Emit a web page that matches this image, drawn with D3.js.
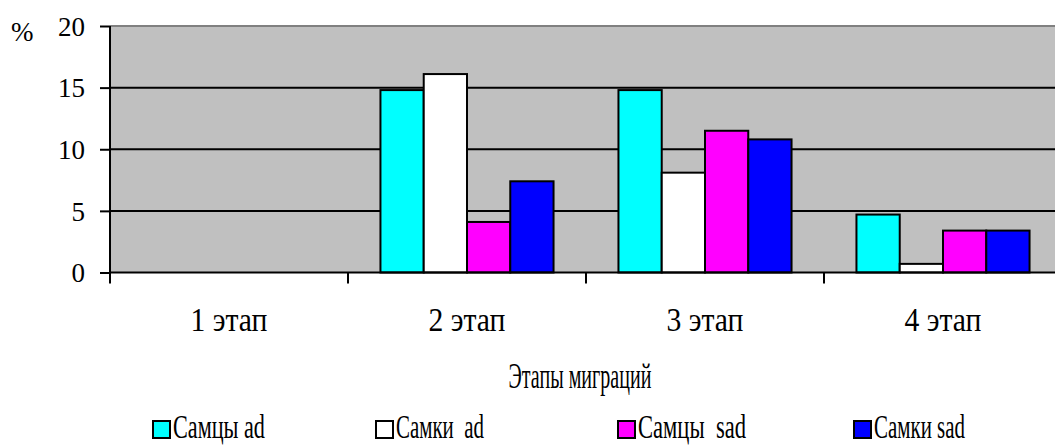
<!DOCTYPE html>
<html>
<head>
<meta charset="utf-8">
<script src="https://cdn.jsdelivr.net/npm/d3@7"></script>
<style>
  html, body { margin: 0; padding: 0; background: #fff; }
  svg { display: block; }
  text { font-family: "Liberation Serif", "Times New Roman", serif; fill: #000; white-space: pre; }
</style>
</head>
<body>
<svg id="chart" width="1055" height="446"></svg>
<script>
// Stages of migration and share (%) of each sex/age group
const stages = ["1 этап", "2 этап", "3 этап", "4 этап"];
const seriesNames = ["Самцы ad", "Самки  ad", "Самцы  sad", "Самки sad"];
const malesAd = [0, 14.8, 14.8, 4.7];
const femalesAd = [0, 16.1, 8.1, 0.7];
const malesSad = [0, 4.1, 11.5, 3.4];
const femalesSad = [0, 7.4, 10.8, 3.4];
const yTicks = [0, 5, 10, 15, 20];
const colors = ["#00ffff", "#ffffff", "#ff00ff", "#0000ff"];

const seriesValues = [malesAd, femalesAd, malesSad, femalesSad];
const serif = "'Liberation Serif', 'Times New Roman', serif";

const svg = d3.select("#chart");
const plot = { left: 110, right: 1062, top: 26, bottom: 272.5 };

const x0 = d3.scaleBand().domain(stages).range([plot.left, plot.right]).padding(0);
const x1 = d3.scaleBand().domain(d3.range(4)).range([0, x0.bandwidth()])
  .paddingInner(0).paddingOuter(0.75);
const y = d3.scaleLinear().domain([0, 20]).range([plot.bottom, plot.top]);

// Narrow text: draws at the given size, then squeezes it horizontally to `width`
function condensedText(parent, str, x, y, size, width, anchor) {
  const g = parent.append("g");
  const t = g.append("text")
    .style("font-family", serif)
    .style("font-size", size + "px")
    .text(str);
  const natural = t.node().getComputedTextLength();
  const sx = width / natural;
  const dx = anchor === "middle" ? -width / 2 : 0;
  g.attr("transform", `translate(${x + dx},${y}) scale(${sx},1)`);
  return g;
}

// plot background
svg.append("rect")
  .attr("x", plot.left).attr("y", plot.top)
  .attr("width", plot.right - plot.left).attr("height", plot.bottom - plot.top)
  .attr("fill", "#c0c0c0");

// top border
svg.append("line")
  .attr("x1", plot.left).attr("x2", plot.right)
  .attr("y1", plot.top).attr("y2", plot.top)
  .attr("stroke", "#808080").attr("stroke-width", 2);

// horizontal gridlines
svg.append("g").selectAll("line")
  .data(yTicks.filter(t => t > 0 && t < 20))
  .join("line")
  .attr("x1", plot.left).attr("x2", plot.right)
  .attr("y1", d => y(d)).attr("y2", d => y(d))
  .attr("stroke", "#000").attr("stroke-width", 2);

// bars
const groups = svg.append("g").selectAll("g")
  .data(stages)
  .join("g")
  .attr("transform", d => `translate(${x0(d)},0)`);

groups.selectAll("rect")
  .data((d, i) => seriesValues.map((vals, s) => ({ s, v: vals[i] })))
  .join("rect")
  .attr("x", d => x1(d.s))
  .attr("width", x1.bandwidth())
  .attr("y", d => y(d.v))
  .attr("height", d => y(0) - y(d.v))
  .attr("fill", d => colors[d.s])
  .attr("stroke", "#000")
  .attr("stroke-width", 2);

// y axis
const yAxis = d3.axisLeft(y).tickValues(yTicks).tickSize(10).tickPadding(15);
const gy = svg.append("g").attr("transform", `translate(${plot.left},0)`).call(yAxis);
gy.select(".domain").remove();
gy.selectAll(".tick line").attr("stroke", "#000").attr("stroke-width", 2);
gy.selectAll(".tick text")
  .style("font-family", serif)
  .style("font-size", "27px")
  .attr("dy", "0.34em");
svg.append("line")
  .attr("x1", plot.left).attr("x2", plot.left)
  .attr("y1", plot.top).attr("y2", plot.bottom + 11)
  .attr("stroke", "#000").attr("stroke-width", 2);

// x axis: ticks between stages, labels centred under each stage
svg.append("line")
  .attr("x1", plot.left).attr("x2", plot.right)
  .attr("y1", plot.bottom).attr("y2", plot.bottom)
  .attr("stroke", "#000").attr("stroke-width", 2);
svg.append("g").selectAll("line")
  .data(stages.slice(1))
  .join("line")
  .attr("x1", d => x0(d)).attr("x2", d => x0(d))
  .attr("y1", plot.bottom).attr("y2", plot.bottom + 11)
  .attr("stroke", "#000").attr("stroke-width", 2);
stages.forEach(s => {
  condensedText(svg, s, x0(s) + x0.bandwidth() / 2, 331, 33, 77, "middle");
});

// unit label
svg.append("text").attr("x", 11).attr("y", 41)
  .style("font-family", serif)
  .style("font-size", "27px").text("%");

// axis title
condensedText(svg, "Этапы миграций", 580, 388, 35, 143, "middle");

// legend
const legendX = [152, 375, 617, 853];
const legendTextW = [92, 88, 108, 91];
seriesNames.forEach((name, i) => {
  svg.append("rect")
    .attr("x", legendX[i] + 1).attr("y", 421).attr("width", 17).attr("height", 17)
    .attr("fill", colors[i])
    .attr("stroke", "#000").attr("stroke-width", 2);
  condensedText(svg, name, legendX[i] + 21, 438, 33, legendTextW[i], "start");
});
</script>
</body>
</html>
